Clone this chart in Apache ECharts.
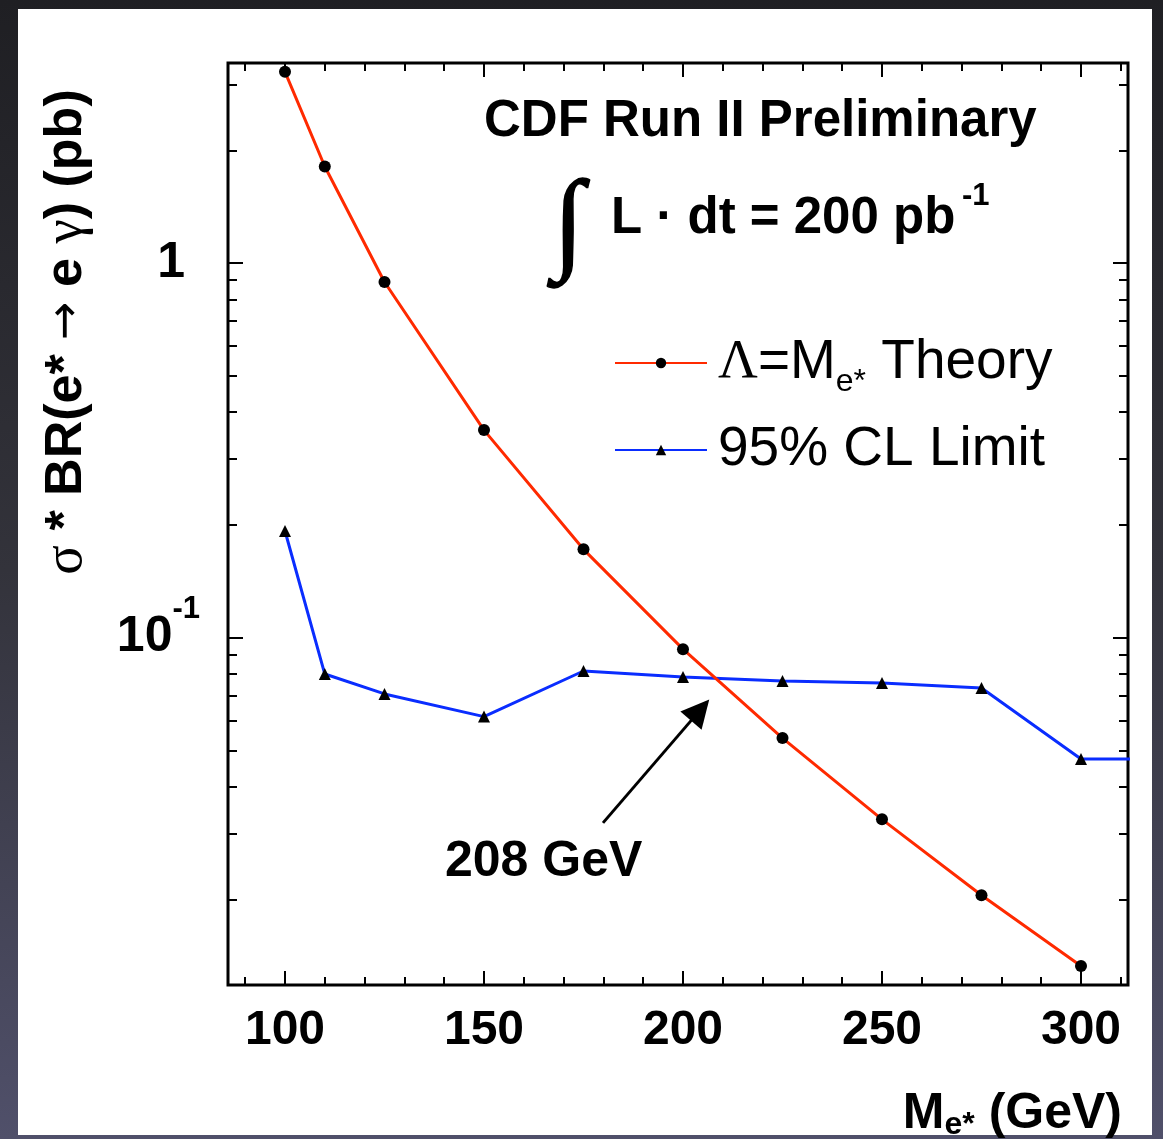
<!DOCTYPE html>
<html><head><meta charset="utf-8">
<script src="https://cdn.jsdelivr.net/npm/echarts@6/dist/echarts.min.js"></script>
<style>
html,body{margin:0;padding:0;width:1163px;height:1139px;overflow:hidden;background:linear-gradient(180deg,#1f1f23 0%,#33333b 50%,#50506a 100%);}
#panel{position:absolute;left:18px;top:9px;width:1134px;height:1126px;background:#fff;}
#chart{position:absolute;left:0;top:0;width:1163px;height:1139px;}
</style></head><body><div id="panel"></div><div id="chart"></div>
<script>
// ---- data ----
const massGeV   = [100, 110, 125, 150, 175, 200, 225, 250, 275, 300];
const theoryPb  = [3.24, 1.81, 0.89, 0.358, 0.172, 0.0931, 0.0539, 0.0327, 0.0205, 0.01327];
const limitPb   = [0.1925, 0.0799, 0.0707, 0.0615, 0.0814, 0.0785, 0.0765, 0.0756, 0.0733, 0.0474];
const limitTail = [330, 0.0474];           // line continues flat past the frame
const xMajorTicks = [100, 150, 200, 250, 300];
const xMinorTicks = [90,110,120,130,140,160,170,180,190,210,220,230,240,260,270,280,290,310];
const yMajorTicks = [0.1, 1];
const yMinorTicks = [0.02,0.03,0.04,0.05,0.06,0.07,0.08,0.09,0.2,0.3,0.4,0.5,0.6,0.7,0.8,0.9,2,3];
const arrowFrom = [179.9, 0.032];
const arrowTo   = [204.3, 0.064];

const FONT = "'Liberation Sans', Arial, Helvetica, sans-serif";
const SERIF = "'Liberation Serif', 'Times New Roman', serif";
const X_MIN = 85.68, X_MAX = 311.81, Y_MIN = 0.01181, Y_MAX = 3.42;

function xAx(pos, ticks, len, withLabels) {
  return {
    type: 'value', position: pos, min: X_MIN, max: X_MAX,
    axisLine: { show: false }, splitLine: { show: false },
    axisTick: { show: true, inside: true, length: len, customValues: ticks, lineStyle: { color: '#000', width: 2 } },
    axisLabel: withLabels ? {
      show: true, customValues: xMajorTicks, margin: 22,
      fontSize: 48, fontWeight: 'bold', fontFamily: FONT, color: '#000'
    } : { show: false }
  };
}
function yAx(pos, ticks, len, withLabels) {
  return {
    type: 'log', logBase: 10, position: pos, min: Y_MIN, max: Y_MAX,
    axisLine: { show: false }, splitLine: { show: false }, minorSplitLine: { show: false },
    axisTick: { show: true, inside: true, length: len, customValues: ticks, lineStyle: { color: '#000', width: 2 } },
    axisLabel: withLabels ? {
      show: true, customValues: yMajorTicks, margin: 28, color: '#000',
      formatter: v => (v > 0.5 ? '{one|1}' : '{b|10}{sup|-1}'),
      rich: {
        one: { fontSize: 50, fontWeight: 'bold', fontFamily: FONT, color: '#000', padding: [0, 15, 0, 0] },
        b:   { fontSize: 50, fontWeight: 'bold', fontFamily: FONT, color: '#000' },
        sup: { fontSize: 31, fontWeight: 'bold', fontFamily: FONT, color: '#000', padding: [0, 0, 56, 0] }
      }
    } : { show: false }
  };
}

const chart = echarts.init(document.getElementById('chart'), null, { renderer: 'canvas' });
chart.setOption({
  animation: false,
  backgroundColor: 'transparent',
  grid: { left: 228, top: 63, width: 900, height: 922, show: true, borderColor: '#000', borderWidth: 3, backgroundColor: 'transparent' },
  xAxis: [
    xAx('bottom', xMajorTicks, 14, true),
    xAx('top', xMajorTicks, 14, false),
    xAx('bottom', xMinorTicks, 8, false),
    xAx('top', xMinorTicks, 8, false)
  ],
  yAxis: [
    yAx('left', yMajorTicks, 15, true),
    yAx('right', yMajorTicks, 15, false),
    yAx('left', yMinorTicks, 9, false),
    yAx('right', yMinorTicks, 9, false)
  ],
  legend: {
    orient: 'vertical', left: 614, top: 328, padding: 0,
    itemWidth: 92, itemHeight: 13, itemGap: 17,
    selectedMode: false,
    textStyle: {
      fontSize: 55, fontFamily: FONT, color: '#000', lineHeight: 70,
      rich: {
        lam: { fontSize: 55, fontFamily: SERIF, color: '#000', lineHeight: 70, padding: [0, 0, 0, 6] },
        sub: { fontSize: 32, fontFamily: FONT, color: '#000', lineHeight: 32, padding: [38, 0, 0, 0] },
        t:   { fontSize: 55, fontFamily: FONT, color: '#000', lineHeight: 70, padding: [0, 0, 0, 6] }
      }
    },
    formatter: name => name === 'theory' ? '{lam|Λ}=M{sub|e*} Theory' : '{t|95% CL Limit}',
    data: ['theory', 'limit']
  },
  series: [
    {
      name: 'theory', type: 'line', xAxisIndex: 0, yAxisIndex: 0,
      data: massGeV.map((m, i) => [m, theoryPb[i]]),
      symbol: 'circle', symbolSize: 12, showAllSymbol: true,
      lineStyle: { color: '#ff2a00', width: 3 },
      itemStyle: { color: '#000', borderWidth: 0 },
      emphasis: { disabled: true }, z: 3,
      markLine: {
        silent: true, animation: false,
        symbol: ['none', 'triangle'], symbolSize: 28,
        lineStyle: { color: '#000', width: 3, type: 'solid' },
        itemStyle: { color: '#000' },
        label: { show: false },
        data: [[{ coord: arrowFrom }, { coord: arrowTo }]]
      }
    },
    {
      name: 'limit', type: 'line', xAxisIndex: 0, yAxisIndex: 0,
      data: massGeV.map((m, i) => [m, limitPb[i]]).concat([{ value: limitTail, symbol: 'none' }]),
      symbol: 'triangle', symbolSize: 12, showAllSymbol: true,
      lineStyle: { color: '#0a2dff', width: 3 },
      itemStyle: { color: '#000', borderWidth: 0 },
      emphasis: { disabled: true }, z: 2
    }
  ],
  graphic: [
    { type: 'text', style: { text: 'CDF Run II Preliminary', x: 484, y: 122, fontSize: 51, fontWeight: 'bold', fontFamily: FONT, fill: '#000', align: 'left', verticalAlign: 'middle' } },
    { type: 'text', style: { text: '∫', x: 553, y: 229, fontSize: 112, fontFamily: SERIF, fill: '#000', stroke: '#000', lineWidth: 1.5, align: 'left', verticalAlign: 'middle' } },
    { type: 'text', style: { text: 'L · dt = 200 pb', x: 611, y: 219, fontSize: 51, fontWeight: 'bold', fontFamily: FONT, fill: '#000', align: 'left', verticalAlign: 'middle' } },
    { type: 'text', style: { text: '-1', x: 962, y: 196, fontSize: 31, fontWeight: 'bold', fontFamily: FONT, fill: '#000', align: 'left', verticalAlign: 'middle' } },
    { type: 'text', style: { text: '208 GeV', x: 445, y: 862, fontSize: 50, fontWeight: 'bold', fontFamily: FONT, fill: '#000', align: 'left', verticalAlign: 'middle' } },
    { type: 'text', x: 67, y: 332, rotation: Math.PI / 2,
      style: { text: '{g|σ} * BR(e* {a|→} e {g|γ}) (pb)', x: 0, y: 0, fontSize: 52, fontWeight: 'bold', fontFamily: FONT, fill: '#000', align: 'center', verticalAlign: 'middle',
        rich: {
          g: { fontSize: 55, fontFamily: SERIF, fontWeight: 'normal', fill: '#000' },
          a: { fontSize: 46, fontFamily: "'DejaVu Sans', sans-serif", fontWeight: 'normal', fill: '#000' }
        } } },
    { type: 'text',
      style: { text: 'M{s|e*} (GeV)', x: 1122, y: 1114, fontSize: 50, fontWeight: 'bold', fontFamily: FONT, fill: '#000', align: 'right', verticalAlign: 'middle',
        rich: { s: { fontSize: 32, fontWeight: 'bold', fontFamily: FONT, fill: '#000', padding: [22, 0, 0, 0] } } } }
  ]
});
</script></body></html>
